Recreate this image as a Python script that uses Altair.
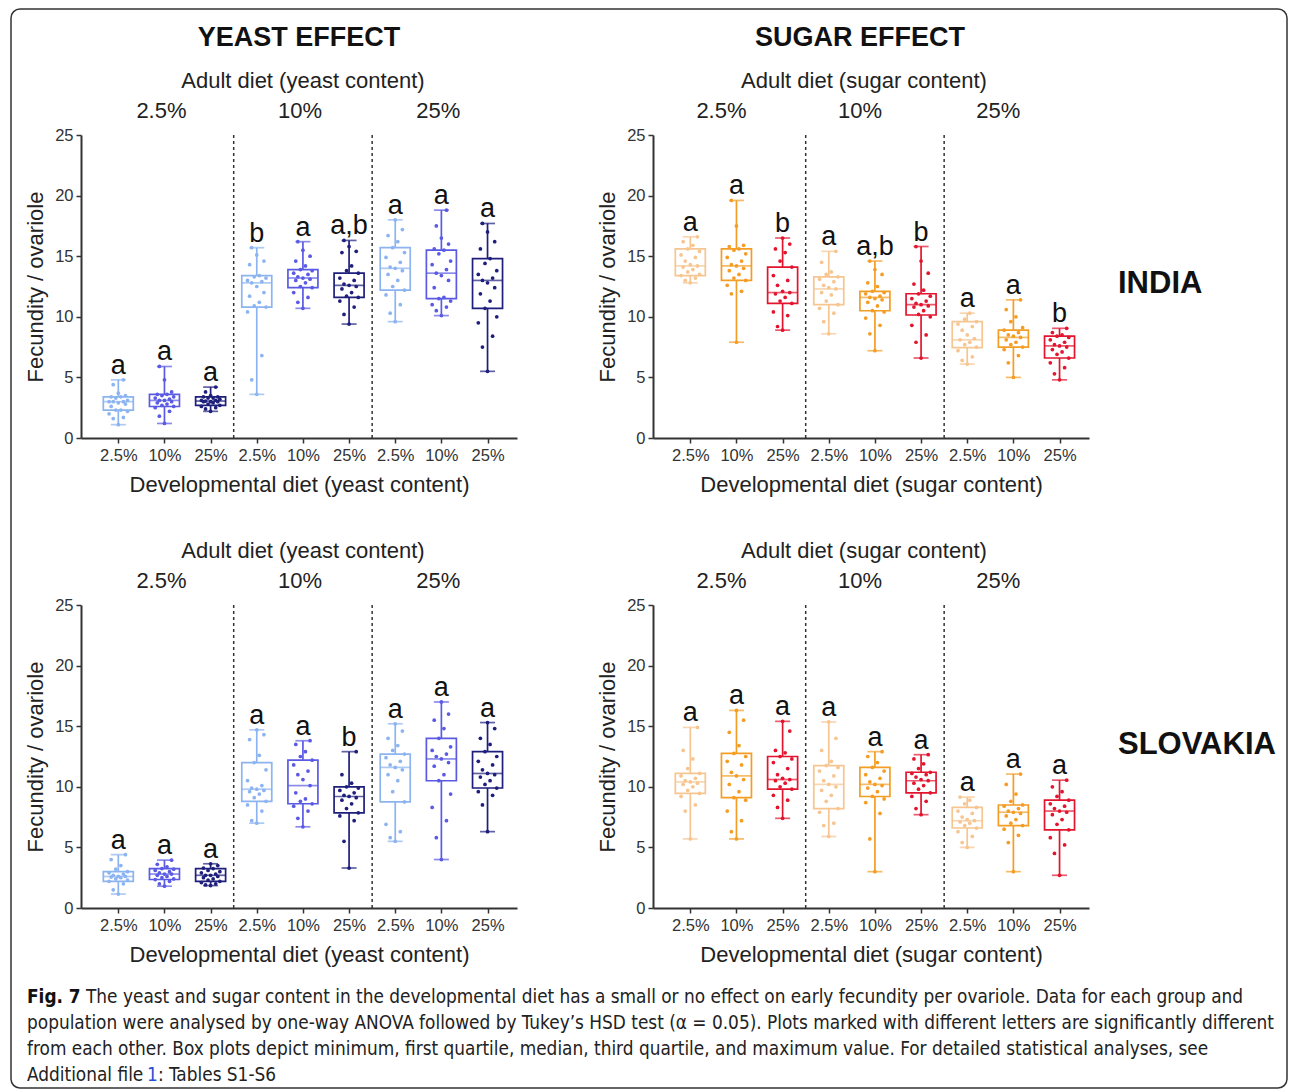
import altair as alt
import pandas as pd

# ---------------- data ----------------
DEV_LABELS = ["2.5%", "10%", "25%"]
GROUP_LABELS = ["2.5%", "10%", "25%"]
GROUP_POS = [1, 4, 7]

# INDIA - yeast effect
IN_Y_MIN = [1.1, 1.2, 2.2, 3.6, 10.7, 9.4, 9.6, 10.1, 5.5]
IN_Y_Q1 = [2.3, 2.6, 2.7, 10.8, 12.4, 11.6, 12.2, 11.5, 10.7]
IN_Y_MED = [3.0, 3.1, 3.05, 12.8, 13.2, 12.6, 14.0, 13.6, 13.0]
IN_Y_Q3 = [3.4, 3.6, 3.4, 13.4, 13.9, 13.6, 15.7, 15.5, 14.8]
IN_Y_MAX = [4.8, 5.9, 4.2, 15.7, 16.2, 16.3, 18.0, 18.8, 17.7]
IN_Y_LET = ["a", "a", "a", "b", "a", "a,b", "a", "a", "a"]
IN_Y_PTS = [
    [1.1, 1.6, 1.7, 2.0, 2.2, 2.3, 2.3, 2.6, 2.8, 2.9, 3.0, 3.0, 3.0, 3.1, 3.3, 3.4, 3.4, 3.5, 3.7, 4.4, 4.8],
    [1.2, 1.8, 2.2, 2.5, 2.6, 2.7, 2.8, 2.9, 3.0, 3.1, 3.1, 3.2, 3.3, 3.4, 3.5, 3.6, 3.6, 3.8, 4.8, 5.9],
    [2.2, 2.4, 2.5, 2.6, 2.7, 2.8, 2.9, 3.0, 3.0, 3.0, 3.05, 3.1, 3.1, 3.2, 3.3, 3.3, 3.4, 3.4, 3.5, 3.8, 4.2],
    [3.6, 4.8, 6.8, 10.4, 10.8, 10.9, 11.2, 11.7, 12.0, 12.5, 12.8, 12.9, 13.0, 13.2, 13.3, 13.4, 14.3, 14.6, 15.1, 15.7],
    [10.7, 11.2, 11.6, 12.0, 12.4, 12.5, 12.8, 13.0, 13.1, 13.2, 13.3, 13.5, 13.6, 13.8, 13.9, 14.2, 14.6, 15.0, 15.5, 16.2],
    [9.4, 10.2, 10.8, 11.3, 11.6, 11.7, 12.0, 12.3, 12.5, 12.6, 12.7, 13.0, 13.2, 13.6, 13.8, 14.2, 15.3, 15.4, 15.8, 16.3],
    [9.6, 10.3, 11.0, 11.8, 12.2, 12.5, 13.0, 13.5, 13.8, 14.0, 14.1, 14.5, 14.9, 15.3, 15.7, 16.2, 16.7, 17.2, 18.0],
    [10.1, 10.5, 10.8, 11.0, 11.3, 11.5, 11.6, 12.4, 13.0, 13.4, 13.6, 13.9, 14.3, 14.6, 15.2, 15.5, 15.6, 16.0, 16.5, 17.5, 18.8],
    [5.5, 7.5, 8.4, 9.5, 10.0, 10.7, 11.3, 11.9, 12.4, 12.8, 13.0, 13.2, 13.5, 13.8, 14.4, 14.8, 15.6, 16.2, 17.0, 17.7],
]

# INDIA - sugar effect
IN_S_MIN = [12.8, 7.9, 8.9, 8.6, 7.2, 6.6, 6.1, 5.0, 4.8]
IN_S_Q1 = [13.4, 13.0, 11.1, 11.0, 10.5, 10.15, 7.45, 7.5, 6.6]
IN_S_MED = [14.2, 14.2, 12.0, 12.3, 11.6, 11.0, 8.1, 8.3, 7.6]
IN_S_Q3 = [15.6, 15.6, 14.1, 13.3, 12.1, 11.9, 9.6, 8.9, 8.4]
IN_S_MAX = [16.6, 19.6, 16.5, 15.4, 14.6, 15.8, 10.3, 11.4, 9.05]
IN_S_LET = ["a", "a", "b", "a", "a,b", "b", "a", "a", "b"]
IN_S_PTS = [
    [12.8, 13.0, 13.2, 13.4, 13.5, 13.7, 13.9, 14.1, 14.2, 14.3, 14.6, 14.9, 15.1, 15.4, 15.6, 15.9, 16.2, 16.6],
    [7.9, 11.9, 12.1, 12.6, 13.0, 13.2, 13.5, 13.8, 14.0, 14.2, 14.3, 14.6, 14.9, 15.2, 15.5, 15.6, 15.8, 15.9, 17.5, 19.6],
    [8.9, 9.2, 10.1, 10.4, 11.1, 11.3, 11.6, 11.9, 12.0, 12.1, 12.6, 13.0, 13.4, 14.1, 14.6, 15.3, 15.6, 16.0, 16.5],
    [8.6, 9.6, 10.3, 10.7, 11.0, 11.3, 11.8, 12.0, 12.3, 12.4, 12.6, 12.9, 13.1, 13.3, 13.5, 13.7, 14.5, 15.4],
    [7.2, 8.6, 9.3, 9.9, 10.4, 10.5, 10.9, 11.2, 11.4, 11.5, 11.6, 11.7, 11.9, 12.0, 12.1, 12.5, 12.8, 13.5, 13.9, 14.6],
    [6.6, 7.9, 8.5, 9.3, 10.0, 10.2, 10.5, 10.8, 10.9, 11.0, 11.1, 11.3, 11.5, 11.7, 11.9, 12.2, 12.7, 13.6, 14.6, 15.8],
    [6.1, 6.4, 6.7, 7.2, 7.5, 7.7, 7.9, 8.1, 8.2, 8.5, 8.9, 9.2, 9.4, 9.6, 9.8, 10.3],
    [5.0, 6.2, 6.8, 7.3, 7.5, 7.7, 7.9, 8.1, 8.3, 8.4, 8.5, 8.7, 8.9, 9.1, 9.6, 10.0, 10.6, 11.4],
    [4.8, 5.3, 5.8, 6.2, 6.6, 6.9, 7.1, 7.3, 7.5, 7.6, 7.7, 7.9, 8.1, 8.3, 8.4, 8.5, 8.7, 9.05],
]

# SLOVAKIA - yeast effect
SK_Y_MIN = [1.15, 1.8, 1.85, 7.0, 6.7, 3.3, 5.5, 4.0, 6.3]
SK_Y_Q1 = [2.2, 2.35, 2.2, 8.8, 8.6, 7.85, 8.75, 10.5, 9.9]
SK_Y_MED = [2.6, 2.8, 2.7, 9.8, 10.1, 9.2, 11.6, 12.3, 11.1]
SK_Y_Q3 = [3.0, 3.25, 3.25, 12.0, 12.2, 10.0, 12.7, 14.0, 12.9]
SK_Y_MAX = [4.4, 3.95, 3.65, 14.7, 13.8, 12.9, 15.2, 17.0, 15.3]
SK_Y_LET = ["a", "a", "a", "a", "a", "b", "a", "a", "a"]
SK_Y_PTS = [
    [1.15, 1.5, 2.0, 2.2, 2.3, 2.4, 2.5, 2.55, 2.6, 2.6, 2.7, 2.8, 2.9, 3.0, 3.2, 3.5, 4.0, 4.4],
    [1.8, 2.0, 2.2, 2.35, 2.4, 2.5, 2.6, 2.7, 2.8, 2.8, 2.9, 3.0, 3.1, 3.2, 3.25, 3.4, 3.6, 3.95],
    [1.85, 1.9, 2.0, 2.1, 2.2, 2.3, 2.4, 2.5, 2.6, 2.7, 2.7, 2.8, 2.9, 3.0, 3.1, 3.25, 3.3, 3.5, 3.65],
    [7.0, 7.2, 8.0, 8.5, 8.8, 9.1, 9.4, 9.6, 9.7, 9.8, 9.9, 10.1, 10.5, 11.4, 12.0, 12.6, 13.9, 14.3, 14.7],
    [6.7, 7.4, 8.0, 8.4, 8.6, 8.8, 9.0, 9.5, 10.1, 10.6, 11.0, 11.3, 11.8, 12.2, 12.5, 12.9, 13.5, 13.8],
    [3.3, 5.5, 7.2, 7.6, 7.85, 8.2, 8.6, 8.9, 9.1, 9.2, 9.3, 9.5, 9.7, 9.9, 10.0, 10.3, 11.0, 12.9],
    [5.5, 5.8, 6.3, 6.9, 8.75, 9.6, 10.5, 11.0, 11.4, 11.6, 11.8, 12.1, 12.4, 12.7, 13.0, 13.4, 14.0, 14.6, 15.2],
    [4.0, 5.8, 7.2, 8.3, 9.4, 10.5, 11.0, 11.7, 12.0, 12.3, 12.5, 12.7, 13.0, 13.3, 14.0, 14.8, 15.5, 16.0, 17.0],
    [6.3, 8.5, 9.3, 9.6, 9.9, 10.2, 10.5, 10.8, 11.0, 11.1, 11.4, 11.8, 12.1, 12.5, 12.9, 13.5, 14.0, 14.8, 15.3],
]

# SLOVAKIA - sugar effect
SK_S_MIN = [5.7, 5.7, 7.4, 5.9, 3.0, 7.7, 5.0, 3.0, 2.7]
SK_S_Q1 = [9.45, 9.1, 9.8, 8.2, 9.2, 9.5, 6.6, 6.8, 6.45]
SK_S_MED = [10.4, 10.9, 10.6, 10.2, 10.2, 10.5, 7.2, 7.9, 8.0]
SK_S_Q3 = [11.1, 12.75, 12.5, 11.75, 11.6, 11.2, 8.3, 8.5, 8.9]
SK_S_MAX = [14.9, 16.3, 15.4, 15.35, 12.9, 12.65, 9.15, 11.05, 10.55]
SK_S_LET = ["a", "a", "a", "a", "a", "a", "a", "a", "a"]
SK_S_PTS = [
    [5.7, 8.0, 8.5, 9.2, 9.45, 9.7, 10.0, 10.2, 10.3, 10.4, 10.5, 10.7, 10.9, 11.1, 11.5, 12.3, 13.0, 14.9],
    [5.7, 6.3, 7.2, 8.0, 8.9, 9.1, 9.6, 10.2, 10.6, 10.9, 11.2, 11.8, 12.1, 12.5, 12.75, 13.4, 14.5, 15.5, 16.3],
    [7.4, 8.3, 8.9, 9.3, 9.8, 10.0, 10.3, 10.5, 10.6, 10.7, 11.0, 11.5, 12.0, 12.3, 12.5, 12.8, 13.0, 14.6, 15.4],
    [5.9, 6.8, 7.0, 7.9, 8.2, 8.8, 9.3, 9.7, 10.0, 10.2, 10.5, 10.9, 11.3, 11.6, 11.75, 12.1, 13.0, 14.0, 15.35],
    [3.0, 5.7, 7.8, 8.7, 9.0, 9.2, 9.6, 9.9, 10.1, 10.2, 10.4, 10.7, 11.0, 11.3, 11.6, 12.0, 12.5, 12.9],
    [7.7, 8.2, 8.8, 9.2, 9.5, 9.8, 10.1, 10.3, 10.5, 10.6, 10.8, 11.0, 11.1, 11.2, 11.5, 11.9, 12.3, 12.65],
    [5.0, 5.4, 5.9, 6.3, 6.6, 6.8, 7.0, 7.1, 7.2, 7.3, 7.5, 7.8, 8.0, 8.3, 8.6, 8.9, 9.15],
    [3.0, 5.4, 6.0, 6.5, 6.8, 7.0, 7.3, 7.6, 7.8, 7.9, 8.0, 8.2, 8.4, 8.5, 8.8, 9.4, 10.2, 11.05],
    [2.7, 4.5, 5.2, 5.8, 6.45, 6.9, 7.3, 7.7, 7.9, 8.0, 8.2, 8.4, 8.6, 8.9, 9.2, 9.6, 10.0, 10.55],
]

CAPTION_LINES = [
    "The yeast and sugar content in the developmental diet has a small or no effect on early fecundity per ovariole. Data for each group and",
    "population were analysed by one-way ANOVA followed by Tukey\u2019s HSD test (\u03b1 = 0.05). Plots marked with different letters are significantly different",
    "from each other. Box plots depict minimum, first quartile, median, third quartile, and maximum value. For detailed statistical analyses, see",
]

# ---------------- styles ----------------
BLUES = ["#8cb4f0", "#5a5ae4", "#1e1e7c"]
ORANGES = ["#f6c590", "#f49d24", "#e3142e"]
FONT = "Liberation Sans"
CAP_FONT = "DejaVu Sans Condensed, Liberation Sans Narrow, Roboto"
CAP_SIZE = 18.85
TITLE_SIZE = 22
W, H = 436, 303
X_DOMAIN = [-0.70, 8.53]
JITTER = [0, -0.11, 0.11, -0.2, 0.2, -0.055, 0.055, -0.155, 0.155]
SW = 1.7


def stats_df(mn, q1, med, q3, mx, let, pal):
    return pd.DataFrame({
        "pos": list(range(9)), "mn": mn, "q1": q1, "med": med, "q3": q3, "mx": mx,
        "letter": let, "col": [pal[i % 3] for i in range(9)],
    })


def points_df(pts, pal):
    rows = []
    for i, vals in enumerate(pts):
        for j, v in enumerate(sorted(vals)):
            rows.append({"px": i + JITTER[j % len(JITTER)], "v": v, "col": pal[i % 3]})
    return pd.DataFrame(rows)


def panel(stats, pts, kind, header, header_dx, group_dx, row_label, extra=None):
    xs = alt.Scale(domain=X_DOMAIN, nice=False, zero=False)
    ys = alt.Scale(domain=[0, 25], nice=False, zero=True)
    xaxis = alt.Axis(values=list(range(9)),
                     labelExpr="['2.5%','10%','25%'][datum.value % 3]",
                     title=f"Developmental diet ({kind} content)",
                     labelPadding=4, titlePadding=11, labelFlush=False)
    yaxis = alt.Axis(values=[0, 5, 10, 15, 20, 25], title="Fecundity / ovariole",
                     titlePadding=7, labelPadding=3)
    X = lambda f: alt.X(f, scale=xs, axis=xaxis)
    Y = lambda f: alt.Y(f, scale=ys, axis=yaxis)
    col = alt.Color("col:N", scale=None)

    base = alt.Chart(stats)
    sep = alt.Chart(pd.DataFrame({"s": [2.5, 5.5]})).mark_rule(
        color="#333", strokeDash=[3, 3], strokeWidth=1.5).encode(x=X("s:Q"))
    box = base.mark_bar(size=30, filled=False, strokeWidth=SW).encode(
        x=X("pos:Q"), y=Y("q1:Q"), y2="q3:Q", color=col)
    wlo = base.mark_rule(strokeWidth=SW).encode(x=X("pos:Q"), y=Y("mn:Q"), y2="q1:Q", color=col)
    whi = base.mark_rule(strokeWidth=SW).encode(x=X("pos:Q"), y=Y("q3:Q"), y2="mx:Q", color=col)
    cap_lo = base.mark_tick(orient="horizontal", size=15, thickness=SW).encode(
        x=X("pos:Q"), y=Y("mn:Q"), color=col)
    cap_hi = base.mark_tick(orient="horizontal", size=15, thickness=SW).encode(
        x=X("pos:Q"), y=Y("mx:Q"), color=col)
    med = base.mark_tick(orient="horizontal", size=30, thickness=SW).encode(
        x=X("pos:Q"), y=Y("med:Q"), color=col)
    dots = alt.Chart(pts).mark_circle(size=14, opacity=1).encode(
        x=X("px:Q"), y=Y("v:Q"), color=col)
    letters = base.mark_text(font=FONT, fontSize=27, baseline="alphabetic", dy=-6,
                             color="#111").encode(x=X("pos:Q"), y=Y("mx:Q"), text="letter:N")

    groups = alt.Chart(pd.DataFrame({"g": GROUP_POS, "t": GROUP_LABELS})).mark_text(
        font=FONT, fontSize=TITLE_SIZE, baseline="alphabetic", dx=group_dx, color="#222"
    ).encode(x=X("g:Q"), y=alt.value(-17), text="t:N")
    adult = alt.Chart(pd.DataFrame({"g": [4], "t": [f"Adult diet ({kind} content)"]})).mark_text(
        font=FONT, fontSize=TITLE_SIZE, baseline="alphabetic", dx=header_dx + 4, color="#222"
    ).encode(x=X("g:Q"), y=alt.value(-47), text="t:N")

    layers = [sep, box, wlo, whi, cap_lo, cap_hi, med, dots, letters, groups, adult]
    if header:
        layers.append(alt.Chart(pd.DataFrame({"g": [4], "t": [header]})).mark_text(
            font=FONT, fontSize=27, fontWeight="bold", baseline="alphabetic", dx=header_dx,
            color="#111").encode(x=X("g:Q"), y=alt.value(-89), text="t:N"))
    if row_label:
        layers.append(alt.Chart(pd.DataFrame({"t": [row_label[0]]})).mark_text(
            font=FONT, fontSize=31, fontWeight="bold", align="left", baseline="middle",
            color="#111").encode(x=alt.value(465), y=alt.value(row_label[1]), text="t:N"))
    if extra:
        layers.extend(extra)
    return alt.layer(*layers).properties(width=W, height=H)


def cap_text(text, x, y, bold=False, color="#222"):
    return alt.Chart(pd.DataFrame({"t": [text]})).mark_text(
        font=CAP_FONT, fontSize=CAP_SIZE, fontWeight="bold" if bold else "normal",
        align="left", baseline="alphabetic", color=color
    ).encode(x=alt.value(x), y=alt.value(y), text="t:N")


# border of the whole figure (decoration), attached to the top-left panel
border = alt.Chart(pd.DataFrame({"k": [0]})).mark_rect(
    filled=False, stroke="#333", strokeWidth=1.5, cornerRadius=9
).encode(x=alt.value(-70), x2=alt.value(1206), y=alt.value(-126), y2=alt.value(953))

# caption, attached to the bottom-left panel (origin of that panel is at x=80, y=604)
cap_layers = [
    cap_text("Fig. 7", -54, 398, bold=True, color="#111"),
    cap_text(CAPTION_LINES[0], 5, 398),
    cap_text(CAPTION_LINES[1], -54, 424),
    cap_text(CAPTION_LINES[2], -54, 450),
    cap_text("Additional file", -54, 476),
    cap_text("1", 66, 476, color="#2a4fd6"),
    cap_text(": Tables S1-S6", 77, 476),
]

tl = panel(stats_df(IN_Y_MIN, IN_Y_Q1, IN_Y_MED, IN_Y_Q3, IN_Y_MAX, IN_Y_LET, BLUES),
           points_df(IN_Y_PTS, BLUES), "yeast", "YEAST EFFECT", -4, -3, None, extra=[border])
tr = panel(stats_df(IN_S_MIN, IN_S_Q1, IN_S_MED, IN_S_Q3, IN_S_MAX, IN_S_LET, ORANGES),
           points_df(IN_S_PTS, ORANGES), "sugar", "SUGAR EFFECT", -15, -15, ("INDIA", 149))
bl = panel(stats_df(SK_Y_MIN, SK_Y_Q1, SK_Y_MED, SK_Y_Q3, SK_Y_MAX, SK_Y_LET, BLUES),
           points_df(SK_Y_PTS, BLUES), "yeast", None, -4, -3, None, extra=cap_layers)
br = panel(stats_df(SK_S_MIN, SK_S_Q1, SK_S_MED, SK_S_Q3, SK_S_MAX, SK_S_LET, ORANGES),
           points_df(SK_S_PTS, ORANGES), "sugar", None, -15, -15, ("SLOVAKIA", 140))

chart = alt.concat(tl, tr, bl, br, columns=2, bounds="flush",
                   spacing={"row": 167, "column": 136}).properties(
    padding={"left": 10, "top": 8, "right": 0, "bottom": 0},
    background="white",
).configure_view(strokeWidth=0).configure_axis(
    labelFont=FONT, titleFont=FONT, labelFontSize=16.5, titleFontSize=TITLE_SIZE,
    labelColor="#333", titleColor="#222", titleFontWeight="normal",
    domainColor="#333", domainWidth=2, tickColor="#333", tickWidth=1.5, tickSize=5,
    grid=False,
)

chart.save("out.html", embed_options={"renderer": "svg", "actions": False})
